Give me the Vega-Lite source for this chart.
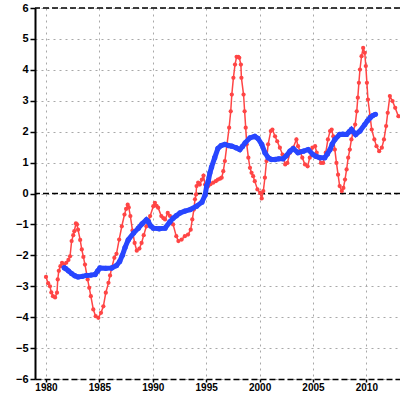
{
  "$schema": "https://vega.github.io/schema/vega-lite/v6.json",
  "width": 365,
  "height": 371,
  "autosize": {"type": "none"},
  "padding": {"left": 35, "top": 8, "right": 0, "bottom": 14},
  "background": "white",
  "config": {
    "view": {"stroke": null},
    "axis": {"labelFont": "Liberation Sans", "labelFontWeight": "bold", "labelFontSize": 10, "labelColor": "black", "title": null, "gridColor": "#a8a8a8", "gridDash": [2, 4], "gridWidth": 1, "tickColor": "black", "domainColor": "black", "labelOverlap": false, "labelFlush": false, "labelBound": false},
    "axisY": {"values": [-6, -5, -4, -3, -2, -1, 0, 1, 2, 3, 4, 5, 6], "tickCount": 13, "format": "d", "grid": true, "domainWidth": 2, "tickSize": 5, "tickWidth": 1.5, "labelPadding": 2, "labelFontSize": 11},
    "axisX": {"values": [1980, 1985, 1990, 1995, 2000, 2005, 2010], "format": "d", "grid": true, "domainDash": [6, 3], "domainWidth": 1.5, "tickSize": 3, "tickWidth": 1.5, "labelPadding": 0}
  },
  "datasets": {
    "red": [
      {"year": 1980.0, "value": -2.70}, {"year": 1980.2, "value": -2.90}, {"year": 1980.37, "value": -3.0}, {"year": 1980.5, "value": -3.2},
      {"year": 1980.65, "value": -3.32}, {"year": 1980.85, "value": -3.36}, {"year": 1981.03, "value": -3.21}, {"year": 1981.1, "value": -2.78},
      {"year": 1981.2, "value": -2.5}, {"year": 1981.35, "value": -2.35}, {"year": 1981.5, "value": -2.24}, {"year": 1981.7, "value": -2.3},
      {"year": 1981.9, "value": -2.24}, {"year": 1982.1, "value": -2.15}, {"year": 1982.25, "value": -2.03}, {"year": 1982.4, "value": -1.54},
      {"year": 1982.55, "value": -1.35}, {"year": 1982.65, "value": -1.22}, {"year": 1982.8, "value": -0.97}, {"year": 1982.9, "value": -1.0},
      {"year": 1983.0, "value": -1.17}, {"year": 1983.2, "value": -1.5}, {"year": 1983.35, "value": -1.81}, {"year": 1983.5, "value": -2.05},
      {"year": 1983.65, "value": -2.3}, {"year": 1983.9, "value": -2.78}, {"year": 1984.05, "value": -3.05}, {"year": 1984.2, "value": -3.32},
      {"year": 1984.43, "value": -3.75}, {"year": 1984.65, "value": -3.97}, {"year": 1984.9, "value": -4.02}, {"year": 1985.15, "value": -3.86},
      {"year": 1985.37, "value": -3.65}, {"year": 1985.6, "value": -3.21}, {"year": 1985.85, "value": -2.89}, {"year": 1986.0, "value": -2.65},
      {"year": 1986.15, "value": -2.41}, {"year": 1986.4, "value": -2.08}, {"year": 1986.6, "value": -1.95}, {"year": 1986.85, "value": -1.49},
      {"year": 1987.1, "value": -1.06}, {"year": 1987.35, "value": -0.68}, {"year": 1987.5, "value": -0.5}, {"year": 1987.65, "value": -0.36},
      {"year": 1987.75, "value": -0.45}, {"year": 1987.9, "value": -0.73}, {"year": 1988.1, "value": -1.2}, {"year": 1988.3, "value": -1.6},
      {"year": 1988.5, "value": -1.85}, {"year": 1988.75, "value": -1.78}, {"year": 1988.95, "value": -1.6}, {"year": 1989.15, "value": -1.35},
      {"year": 1989.4, "value": -1.06}, {"year": 1989.6, "value": -0.85}, {"year": 1989.75, "value": -0.73}, {"year": 1990.05, "value": -0.41},
      {"year": 1990.2, "value": -0.3}, {"year": 1990.35, "value": -0.4}, {"year": 1990.5, "value": -0.46}, {"year": 1990.8, "value": -0.73},
      {"year": 1991.0, "value": -0.8}, {"year": 1991.15, "value": -0.84}, {"year": 1991.4, "value": -0.63}, {"year": 1991.6, "value": -0.72},
      {"year": 1991.9, "value": -1.0}, {"year": 1992.2, "value": -1.38}, {"year": 1992.4, "value": -1.54}, {"year": 1992.7, "value": -1.49},
      {"year": 1993.0, "value": -1.38}, {"year": 1993.3, "value": -1.33}, {"year": 1993.55, "value": -1.17}, {"year": 1993.7, "value": -0.84},
      {"year": 1993.85, "value": -0.52}, {"year": 1993.95, "value": -0.19}, {"year": 1994.05, "value": -0.03}, {"year": 1994.1, "value": 0.24},
      {"year": 1994.25, "value": 0.35}, {"year": 1994.4, "value": 0.29}, {"year": 1994.6, "value": 0.45}, {"year": 1994.75, "value": 0.58},
      {"year": 1994.9, "value": 0.29}, {"year": 1995.05, "value": 0.2}, {"year": 1995.2, "value": 0.24}, {"year": 1995.4, "value": 0.3},
      {"year": 1995.65, "value": 0.35}, {"year": 1995.9, "value": 0.4}, {"year": 1996.1, "value": 0.45}, {"year": 1996.3, "value": 0.48},
      {"year": 1996.45, "value": 0.51}, {"year": 1996.6, "value": 0.72}, {"year": 1996.75, "value": 1.05}, {"year": 1996.95, "value": 1.59},
      {"year": 1997.15, "value": 2.13}, {"year": 1997.3, "value": 2.66}, {"year": 1997.4, "value": 3.2}, {"year": 1997.55, "value": 3.74},
      {"year": 1997.7, "value": 4.17}, {"year": 1997.85, "value": 4.42}, {"year": 1998.0, "value": 4.42}, {"year": 1998.1, "value": 4.39},
      {"year": 1998.25, "value": 4.17}, {"year": 1998.3, "value": 3.74}, {"year": 1998.5, "value": 3.2}, {"year": 1998.6, "value": 2.66},
      {"year": 1998.7, "value": 2.13}, {"year": 1998.8, "value": 1.59}, {"year": 1998.95, "value": 1.16}, {"year": 1999.1, "value": 0.83},
      {"year": 1999.25, "value": 0.67}, {"year": 1999.4, "value": 0.56}, {"year": 1999.55, "value": 0.4}, {"year": 1999.8, "value": 0.13},
      {"year": 2000.05, "value": 0.02}, {"year": 2000.2, "value": -0.16}, {"year": 2000.35, "value": 0.08}, {"year": 2000.5, "value": 0.51},
      {"year": 2000.65, "value": 1.05}, {"year": 2000.8, "value": 1.59}, {"year": 2001.05, "value": 2.02}, {"year": 2001.2, "value": 2.07},
      {"year": 2001.45, "value": 1.85}, {"year": 2001.65, "value": 1.69}, {"year": 2001.9, "value": 1.48}, {"year": 2002.15, "value": 1.26},
      {"year": 2002.4, "value": 0.94}, {"year": 2002.6, "value": 0.99}, {"year": 2002.85, "value": 1.32}, {"year": 2003.15, "value": 1.48},
      {"year": 2003.45, "value": 1.75}, {"year": 2003.6, "value": 1.53}, {"year": 2003.8, "value": 1.37}, {"year": 2004.0, "value": 1.16},
      {"year": 2004.25, "value": 0.94}, {"year": 2004.5, "value": 0.88}, {"year": 2004.7, "value": 1.16}, {"year": 2004.95, "value": 1.48},
      {"year": 2005.2, "value": 1.53}, {"year": 2005.35, "value": 1.32}, {"year": 2005.55, "value": 1.16}, {"year": 2005.75, "value": 0.99},
      {"year": 2005.95, "value": 0.99}, {"year": 2006.2, "value": 1.32}, {"year": 2006.4, "value": 1.75}, {"year": 2006.6, "value": 2.02},
      {"year": 2006.75, "value": 2.07}, {"year": 2006.9, "value": 1.85}, {"year": 2007.05, "value": 1.42}, {"year": 2007.2, "value": 0.99},
      {"year": 2007.35, "value": 0.61}, {"year": 2007.5, "value": 0.24}, {"year": 2007.7, "value": 0.08}, {"year": 2007.85, "value": 0.18},
      {"year": 2008.0, "value": 0.45}, {"year": 2008.15, "value": 0.78}, {"year": 2008.3, "value": 1.16}, {"year": 2008.45, "value": 1.42},
      {"year": 2008.6, "value": 1.75}, {"year": 2008.75, "value": 1.96}, {"year": 2008.95, "value": 2.23}, {"year": 2009.1, "value": 2.66},
      {"year": 2009.2, "value": 3.1}, {"year": 2009.3, "value": 3.58}, {"year": 2009.4, "value": 4.01}, {"year": 2009.55, "value": 4.44},
      {"year": 2009.7, "value": 4.71}, {"year": 2009.85, "value": 4.55}, {"year": 2009.95, "value": 4.12}, {"year": 2010.05, "value": 3.58},
      {"year": 2010.15, "value": 3.04}, {"year": 2010.35, "value": 2.5}, {"year": 2010.5, "value": 2.07}, {"year": 2010.75, "value": 1.75},
      {"year": 2010.95, "value": 1.53}, {"year": 2011.2, "value": 1.37}, {"year": 2011.45, "value": 1.48}, {"year": 2011.65, "value": 1.75},
      {"year": 2011.85, "value": 2.18}, {"year": 2012.0, "value": 2.61}, {"year": 2012.2, "value": 3.15}, {"year": 2012.45, "value": 2.99},
      {"year": 2012.7, "value": 2.77}, {"year": 2013.0, "value": 2.5}
    ],
    "blue": [
      {"year": 1981.7, "value": -2.4}, {"year": 1981.85, "value": -2.43}, {"year": 1982.1, "value": -2.5}, {"year": 1982.4, "value": -2.59},
      {"year": 1982.7, "value": -2.66}, {"year": 1983.0, "value": -2.7}, {"year": 1983.4, "value": -2.68}, {"year": 1983.8, "value": -2.65},
      {"year": 1984.2, "value": -2.64}, {"year": 1984.6, "value": -2.62}, {"year": 1984.85, "value": -2.5}, {"year": 1985.05, "value": -2.41},
      {"year": 1985.6, "value": -2.42}, {"year": 1986.15, "value": -2.41}, {"year": 1986.6, "value": -2.33}, {"year": 1986.9, "value": -2.2},
      {"year": 1987.15, "value": -2.0}, {"year": 1987.4, "value": -1.75}, {"year": 1987.7, "value": -1.5}, {"year": 1988.2, "value": -1.28},
      {"year": 1988.65, "value": -1.12}, {"year": 1989.0, "value": -0.98}, {"year": 1989.4, "value": -0.85}, {"year": 1989.6, "value": -0.92},
      {"year": 1989.8, "value": -1.05}, {"year": 1990.05, "value": -1.12}, {"year": 1990.6, "value": -1.14}, {"year": 1991.15, "value": -1.12},
      {"year": 1991.6, "value": -0.92}, {"year": 1991.9, "value": -0.8}, {"year": 1992.2, "value": -0.72}, {"year": 1992.55, "value": -0.63},
      {"year": 1993.0, "value": -0.57}, {"year": 1993.5, "value": -0.52}, {"year": 1994.1, "value": -0.41}, {"year": 1994.6, "value": -0.28},
      {"year": 1994.9, "value": -0.05}, {"year": 1995.05, "value": 0.25}, {"year": 1995.2, "value": 0.4}, {"year": 1995.35, "value": 0.67},
      {"year": 1995.5, "value": 0.85}, {"year": 1995.8, "value": 1.16}, {"year": 1996.1, "value": 1.46}, {"year": 1996.4, "value": 1.55},
      {"year": 1996.75, "value": 1.59}, {"year": 1997.1, "value": 1.55}, {"year": 1997.4, "value": 1.53}, {"year": 1997.8, "value": 1.48},
      {"year": 1998.15, "value": 1.42}, {"year": 1998.4, "value": 1.52}, {"year": 1998.65, "value": 1.64}, {"year": 1999.1, "value": 1.8},
      {"year": 1999.55, "value": 1.85}, {"year": 1999.85, "value": 1.78}, {"year": 2000.2, "value": 1.59}, {"year": 2000.5, "value": 1.32},
      {"year": 2000.8, "value": 1.16}, {"year": 2001.1, "value": 1.1}, {"year": 2001.45, "value": 1.1}, {"year": 2001.8, "value": 1.12},
      {"year": 2002.2, "value": 1.12}, {"year": 2002.5, "value": 1.22}, {"year": 2002.85, "value": 1.37}, {"year": 2003.15, "value": 1.45},
      {"year": 2003.6, "value": 1.32}, {"year": 2004.1, "value": 1.37}, {"year": 2004.55, "value": 1.42}, {"year": 2005.0, "value": 1.26},
      {"year": 2005.3, "value": 1.2}, {"year": 2005.65, "value": 1.16}, {"year": 2006.1, "value": 1.16}, {"year": 2006.35, "value": 1.28},
      {"year": 2006.6, "value": 1.42}, {"year": 2006.8, "value": 1.6}, {"year": 2007.05, "value": 1.75}, {"year": 2007.5, "value": 1.91},
      {"year": 2007.8, "value": 1.92}, {"year": 2008.15, "value": 1.91}, {"year": 2008.4, "value": 2.0}, {"year": 2008.6, "value": 2.07},
      {"year": 2009.0, "value": 1.91}, {"year": 2009.4, "value": 2.02}, {"year": 2009.85, "value": 2.23}, {"year": 2010.1, "value": 2.35},
      {"year": 2010.35, "value": 2.45}, {"year": 2010.6, "value": 2.52}, {"year": 2010.85, "value": 2.56}
    ],
    "refs": [{"level": 6}, {"level": 0}]
  },
  "layer": [
    {
      "data": {"name": "refs"},
      "mark": {"type": "rule", "color": "black", "strokeDash": [6, 3], "strokeWidth": 1.5},
      "encoding": {
        "y": {"field": "level", "type": "quantitative", "scale": {"domain": [-6, 6], "nice": false, "zero": false}}
      }
    },
    {
      "data": {"name": "red"},
      "mark": {"type": "line", "color": "#ff4545", "strokeWidth": 1.5, "point": {"filled": true, "size": 18, "color": "#ff4545"}},
      "encoding": {
        "x": {"field": "year", "type": "quantitative", "scale": {"domain": [1978.97, 2013.15], "nice": false, "zero": false}},
        "y": {"field": "value", "type": "quantitative"}
      }
    },
    {
      "data": {"name": "blue"},
      "mark": {"type": "line", "color": "#2846ff", "strokeWidth": 5, "point": {"filled": true, "size": 28, "color": "#2846ff"}},
      "encoding": {
        "x": {"field": "year", "type": "quantitative"},
        "y": {"field": "value", "type": "quantitative"}
      }
    }
  ]
}
